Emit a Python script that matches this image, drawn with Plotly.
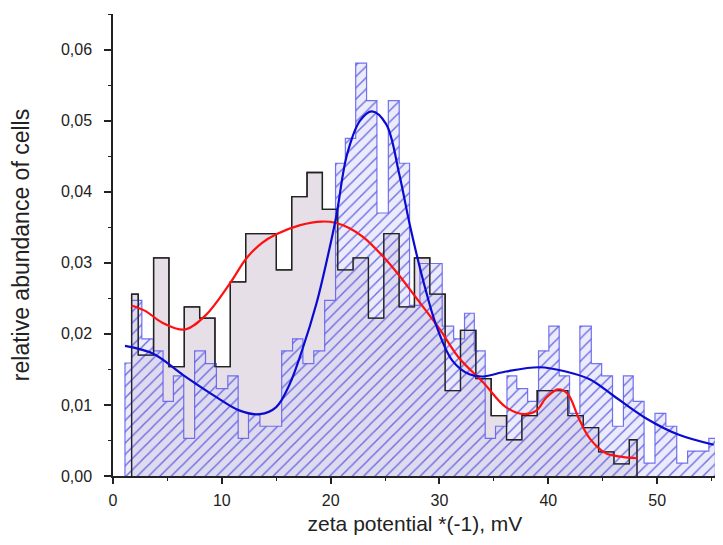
import plotly.graph_objects as go

# ---- data ----
# black histogram (bin edges, heights)
black_edges = [1.71, 2.32, 3.73, 5.14, 6.55, 7.96, 9.37, 10.78, 12.19, 13.60, 15.01,
               16.42, 17.83, 19.24, 20.65, 22.06, 23.47, 24.88, 26.29, 27.70, 29.11,
               30.52, 31.93, 33.34, 34.75, 36.16, 37.57, 38.98, 40.39, 41.80, 43.21,
               44.62, 46.03, 47.44, 48.15]
black_heights = [0.0256, 0.0170, 0.0307, 0.0154, 0.0238, 0.0222, 0.0154, 0.0273, 0.0341, 0.0341,
                 0.0290, 0.0393, 0.0427, 0.0375, 0.0290, 0.0307, 0.0222, 0.0341, 0.0238, 0.0307,
                 0.0256, 0.0120, 0.0205, 0.0137, 0.0085, 0.0051, 0.0085, 0.0120, 0.0120, 0.0085,
                 0.0068, 0.0034, 0.0017, 0.0051]

# blue hatched histogram (bin edges, heights)
blue_edges = [1.10, 1.71, 2.65, 3.70, 4.60, 5.55, 6.50, 7.50, 8.50, 9.50, 10.55,
              11.50, 12.45, 13.50, 14.50, 15.50, 16.50, 17.45, 18.45, 19.45, 20.45,
              21.35, 22.30, 23.30, 24.25, 25.30, 26.30, 27.25, 28.20, 29.20, 30.25,
              31.30, 32.30, 33.20, 34.20, 35.15, 36.20, 37.10, 38.10, 39.10, 40.05,
              41.00, 41.95, 42.90, 43.95, 44.90, 45.90, 46.90, 47.80, 48.80, 49.80,
              50.80, 51.80, 52.80, 53.80, 54.75, 55.35]
blue_heights = [0.0159, 0.0247, 0.0193, 0.0176, 0.0105, 0.0141, 0.0053, 0.0176, 0.0158, 0.0123,
                0.0141, 0.0053, 0.0087, 0.0070, 0.0070, 0.0176, 0.0193, 0.0158, 0.0176, 0.0247,
                0.0440, 0.0475, 0.0581, 0.0528, 0.0370, 0.0528, 0.0440, 0.0240, 0.0299, 0.0299,
                0.0211, 0.0193, 0.0229, 0.0176, 0.0053, 0.0070, 0.0141, 0.0123, 0.0105, 0.0176,
                0.0211, 0.0141, 0.0088, 0.0211, 0.0158, 0.0141, 0.0070, 0.0141, 0.0105, 0.0018,
                0.0088, 0.0070, 0.0018, 0.0035, 0.0035, 0.0053]

# fitted curves
red_x = [1.7, 3.0, 4.5, 6.6, 8.5, 10.7, 12.3, 13.7, 15.0, 17.2, 19.2, 20.5, 21.7, 23.0,
         24.8, 26.3, 27.55, 30.0, 31.8, 34.0, 36.1, 37.8, 38.9, 39.8, 40.9, 41.8, 42.8,
         43.8, 45.3, 46.8, 48.2]
red_y = [0.0240, 0.0232, 0.0216, 0.0206, 0.0226, 0.0270, 0.0307, 0.0328, 0.0340, 0.0353,
         0.0358, 0.0356, 0.0349, 0.0336, 0.0309, 0.0282, 0.0257, 0.0207, 0.0166, 0.0132,
         0.0097, 0.0087, 0.0092, 0.0110, 0.0122, 0.0115, 0.0081, 0.0053, 0.0032, 0.0027,
         0.0025]

blue_x = [1.1, 3.7, 6.45, 9.5, 11.65, 13.5, 15.0, 16.2, 17.4, 18.7, 19.6, 20.5, 21.5,
          22.7, 23.8, 25.1, 26.3, 27.25, 28.5, 29.7, 31.2, 32.75, 34.0, 36.1, 39.2, 41.6,
          43.8, 45.9, 49.0, 52.0, 55.2]
blue_y = [0.0183, 0.0172, 0.0142, 0.0111, 0.0092, 0.0087, 0.0097, 0.0128, 0.0178, 0.0243,
          0.0300, 0.0364, 0.0452, 0.0500, 0.0513, 0.0495, 0.0425, 0.0355, 0.0275, 0.0212,
          0.0162, 0.0143, 0.0140, 0.0147, 0.0153, 0.0147, 0.0136, 0.0114, 0.0081, 0.0058,
          0.0044]

y_tickvals = [0.00, 0.01, 0.02, 0.03, 0.04, 0.05, 0.06]
y_ticktext = ["0,00", "0,01", "0,02", "0,03", "0,04", "0,05", "0,06"]
x_tickvals = [0, 10, 20, 30, 40, 50]
x_ticktext = ["0", "10", "20", "30", "40", "50"]


def step_path(edges, heights):
    xs = [edges[0]]
    ys = [0.0]
    for e, h in zip(edges[:-1], heights):
        xs.append(e)
        ys.append(h)
    xs.append(edges[-1])
    ys.append(heights[-1])
    xs.append(edges[-1])
    ys.append(0.0)
    return xs, ys


bx, by = step_path(black_edges, black_heights)
ux, uy = step_path(blue_edges, blue_heights)

fig = go.Figure()
# black histogram filled
fig.add_trace(go.Scatter(x=bx, y=by, mode="lines", line=dict(shape="hv", color="#222222", width=1.3),
                         fill="tozeroy", fillcolor="#e6dfe7", hoverinfo="skip"))
# blue hatched histogram
fig.add_trace(go.Scatter(x=ux, y=uy, mode="lines", line=dict(shape="hv", color="rgba(90,90,240,0.85)", width=1.2),
                         fill="tozeroy",
                         fillpattern=dict(shape="/", fgcolor="rgba(80,80,225,0.8)",
                                          bgcolor="rgba(215,215,248,0.5)", size=8, solidity=0.18,
                                          fillmode="replace"),
                         hoverinfo="skip"))
# black outline on top
fig.add_trace(go.Scatter(x=bx, y=by, mode="lines", line=dict(shape="hv", color="#222222", width=1.3),
                         hoverinfo="skip"))
# fitted curves
fig.add_trace(go.Scatter(x=red_x, y=red_y, mode="lines",
                         line=dict(shape="spline", smoothing=1.0, color="#ff1010", width=2.2)))
fig.add_trace(go.Scatter(x=blue_x, y=blue_y, mode="lines",
                         line=dict(shape="spline", smoothing=1.0, color="#0a0ad0", width=2.2)))

font_family = "Liberation Sans, Arial, Helvetica, sans-serif"
# the page body adds an 8 px offset, so the figure is 715x537 and margins are shifted
fig.update_layout(
    width=715, height=537,
    margin=dict(l=105, r=6, t=6, b=69),
    paper_bgcolor="white", plot_bgcolor="white",
    showlegend=False,
    font=dict(family=font_family, color="#222222", size=16),
    xaxis=dict(range=[0, 55.5], showgrid=False, zeroline=False, automargin=False,
               showline=True, linecolor="#222222", linewidth=1.5,
               ticks="outside", ticklen=6, tickwidth=1.5, tickcolor="#222222",
               ticklabelstandoff=3,
               tickvals=x_tickvals, ticktext=x_ticktext, tickfont=dict(size=16),
               minor=dict(ticks="outside", ticklen=3, tickwidth=1.3, tickcolor="#222222", dtick=5),
               title=dict(text="zeta potential *(-1), mV", font=dict(size=21), standoff=8)),
    yaxis=dict(range=[0, 0.065], showgrid=False, zeroline=False, automargin=False,
               showline=True, linecolor="#222222", linewidth=1.5,
               ticks="outside", ticklen=7, tickwidth=1.5, tickcolor="#222222",
               ticklabelstandoff=9,
               tickvals=y_tickvals, ticktext=y_ticktext, tickfont=dict(size=16),
               minor=dict(ticks="outside", ticklen=3, tickwidth=1.3, tickcolor="#222222", dtick=0.005),
               title=dict(text="relative abundance of cells", font=dict(size=23), standoff=26)),
)

fig.write_html("out.html")
